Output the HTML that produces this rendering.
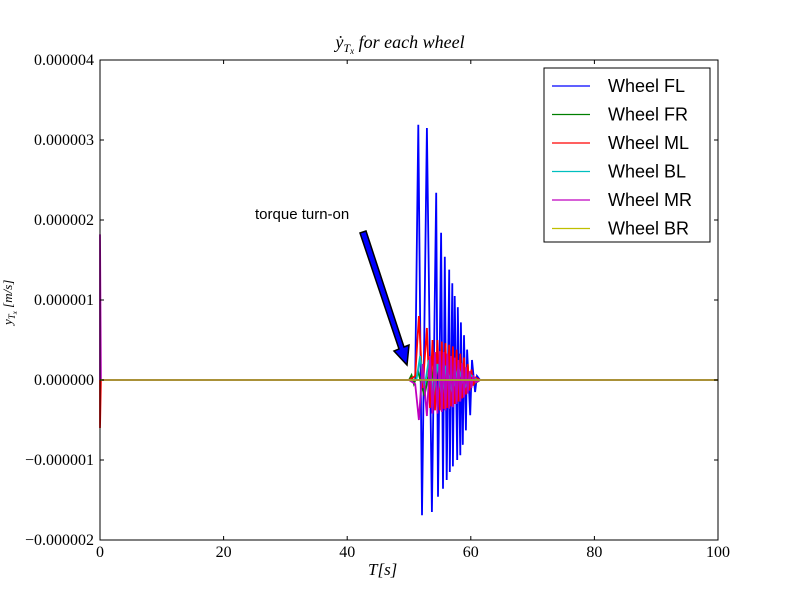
<!DOCTYPE html>
<html><head><meta charset="utf-8"><style>
body{margin:0;background:#fff;}
svg{display:block;font-family:"Liberation Serif",serif;}
</style></head><body>
<svg id="chart" width="800" height="600" viewBox="0 0 800 600">
<rect x="0" y="0" width="800" height="600" fill="#fff"/>
<g id="marks"></g>
<rect x="100" y="60" width="618" height="480" fill="none" stroke="#000" stroke-width="1"/>
<g id="axes"></g>
<text x="400" y="48" text-anchor="middle" font-size="18" font-style="italic">ẏ<tspan font-size="12" dy="4">T<tspan font-size="9" dy="2">x</tspan></tspan><tspan dy="-6"> for each wheel</tspan></text>
<text x="368" y="575" font-size="17" font-style="italic">T[s]</text>
<text transform="translate(12,325) rotate(-90)" font-size="13" font-style="italic">y<tspan font-size="9" dy="3">T<tspan font-size="7" dy="2">x</tspan></tspan><tspan dy="-5"> [m/s]</tspan></text>
<g>
<text x="255" y="219" font-family="Liberation Sans, sans-serif" font-size="15">torque turn-on</text>
<polygon points="360,233 366,231 404,347 409,345 407,365 394,351 399,349" fill="#0000ff" stroke="#000" stroke-width="1.5"/>
</g>
<g>
<rect x="544" y="68" width="166" height="174" fill="#fff" stroke="#000"/>
<g id="legend-items"></g>
</g>
</svg>
<script>
const xTicks=[0,20,40,60,80,100];
const yTicks=[-2,-1,0,1,2,3,4];
const yTickLabels=["\u22120.000002","\u22120.000001","0.000000","0.000001","0.000002","0.000003","0.000004"];
const seriesNames=["Wheel FL","Wheel FR","Wheel ML","Wheel BL","Wheel MR","Wheel BR"];
const seriesColors=["#0000ff","#007f00","#ff0000","#00bfbf","#bf00bf","#bfbf00"];
// values in units of 1e-6
const flT=[0,50,51.0,51.5,52.1,52.9,53.7,54.4,54.7,55.2,55.5,55.8,56.1,56.5,56.6,57.0,57.1,57.4,57.8,57.9,58.3,58.4,58.7,58.9,59.2,59.4,59.9,60.2,60.7,61.0,61.5,100];
const flV=[0,0,0,3.19,-1.69,3.15,-1.65,2.34,-1.46,1.84,-1.36,1.54,-1.25,1.38,-1.15,1.21,-1.08,1.05,-1.0,0.91,-0.94,0.72,-0.81,0.56,-0.63,0.38,-0.44,0.25,-0.15,0.05,0,0];
const frT=[0,50,50.4,50.8,51.5,52.5,53.5,54.5,55.5,56.5,57.5,58.5,59.5,60.5,61.5,100];
const frV=[0,0,0.06,-0.05,0.1,-0.2,0.2,-0.25,0.25,-0.25,0.22,-0.18,0.12,-0.05,0,0];
const mlT=[0,0,0.15,50,51.0,51.6,52.2,52.9,53.4,53.8,54.2,54.6,55.0,55.3,55.6,55.9,56.2,56.5,56.8,57.1,57.4,57.7,58.0,58.3,58.6,58.9,59.2,59.5,59.8,60.1,60.4,60.8,61.5,100];
const mlV=[0,-0.6,0,0,0.05,0.8,-0.1,0.65,-0.35,0.5,-0.38,0.5,-0.38,0.48,-0.36,0.46,-0.35,0.44,-0.33,0.42,-0.3,0.38,-0.27,0.33,-0.23,0.28,-0.18,0.2,-0.13,0.13,-0.07,0.03,0,0];
const blT=[0,50,51.2,51.8,52.5,53.2,53.9,54.6,55.3,56.0,57.0,58.0,59.0,60.0,61.0,100];
const blV=[0,0,0.0,0.3,-0.1,0.25,-0.2,0.2,-0.2,0.18,-0.15,0.15,-0.1,0.06,0,0];
const mrT=[0,0,0.15,50,51.0,51.6,52.2,52.9,53.4,53.8,54.2,54.6,55.0,55.3,55.6,55.9,56.2,56.5,56.8,57.1,57.4,57.7,58.0,58.3,58.6,58.9,59.2,59.5,59.8,60.1,60.4,60.8,61.5,100];
const mrV=[0,1.82,0,0,-0.05,-0.5,0.2,-0.45,0.3,-0.42,0.35,-0.42,0.36,-0.4,0.35,-0.38,0.33,-0.36,0.3,-0.34,0.28,-0.3,0.25,-0.27,0.21,-0.22,0.16,-0.17,0.11,-0.1,0.06,-0.03,0,0];
const brT=[0,100];
const brV=[0,0];
const seriesT=[flT,frT,mlT,blT,mrT,brT];
const seriesV=[flV,frV,mlV,blV,mrV,brV];
const NS="http://www.w3.org/2000/svg";
function xs(t){return 100+t*6.18;}
function ys(v){return 380-v*80;}
const marks=document.getElementById('marks');
const drawOrder=[0,1,2,3,4,5];
drawOrder.forEach(i=>{
  const p=document.createElementNS(NS,'polyline');
  p.setAttribute('points',seriesT[i].map((t,k)=>xs(t).toFixed(1)+','+ys(seriesV[i][k]).toFixed(1)).join(' '));
  p.setAttribute('fill','none');p.setAttribute('stroke',seriesColors[i]);p.setAttribute('stroke-width','1.8');
  
  
  marks.appendChild(p);
});
const base=document.createElementNS(NS,'line');
base.setAttribute('x1',xs(0));base.setAttribute('x2',xs(100));base.setAttribute('y1',ys(0));base.setAttribute('y2',ys(0));
base.setAttribute('stroke','#a8903a');base.setAttribute('stroke-width','1.8');


marks.appendChild(base);
const axes=document.getElementById('axes');
xTicks.forEach(t=>{
  const x=xs(t);
  [[540,536],[60,64]].forEach(([a,b])=>{const l=document.createElementNS(NS,'line');l.setAttribute('x1',x);l.setAttribute('x2',x);l.setAttribute('y1',a);l.setAttribute('y2',b);l.setAttribute('stroke','#000');
    
    
    axes.appendChild(l);});
  const tx=document.createElementNS(NS,'text');tx.setAttribute('x',x);tx.setAttribute('y',557);tx.setAttribute('text-anchor','middle');tx.setAttribute('font-size','16');tx.textContent=t;
  
  
  axes.appendChild(tx);
});
yTicks.forEach((v,i)=>{
  const y=ys(v);
  [[100,104],[718,714]].forEach(([a,b])=>{const l=document.createElementNS(NS,'line');l.setAttribute('x1',a);l.setAttribute('x2',b);l.setAttribute('y1',y);l.setAttribute('y2',y);l.setAttribute('stroke','#000');
    
    
    axes.appendChild(l);});
  const tx=document.createElementNS(NS,'text');tx.setAttribute('x',94);tx.setAttribute('y',y+5);tx.setAttribute('text-anchor','end');tx.setAttribute('font-size','16');tx.textContent=yTickLabels[i];
  
  
  axes.appendChild(tx);
});
const li=document.getElementById('legend-items');
seriesNames.forEach((n,i)=>{
  const y=86+i*28.5;
  const g=document.createElementNS(NS,'g');
  
  
  const l=document.createElementNS(NS,'line');l.setAttribute('x1',552);l.setAttribute('x2',590);l.setAttribute('y1',y);l.setAttribute('y2',y);l.setAttribute('stroke',seriesColors[i]);l.setAttribute('stroke-width','1.3');
  
  
  const t=document.createElementNS(NS,'text');t.setAttribute('x',608);t.setAttribute('y',y+6);t.setAttribute('font-size','18');t.setAttribute('font-family','Liberation Sans, sans-serif');t.textContent=n;
  
  
  g.appendChild(l);g.appendChild(t);li.appendChild(g);
});
</script>
</body></html>
